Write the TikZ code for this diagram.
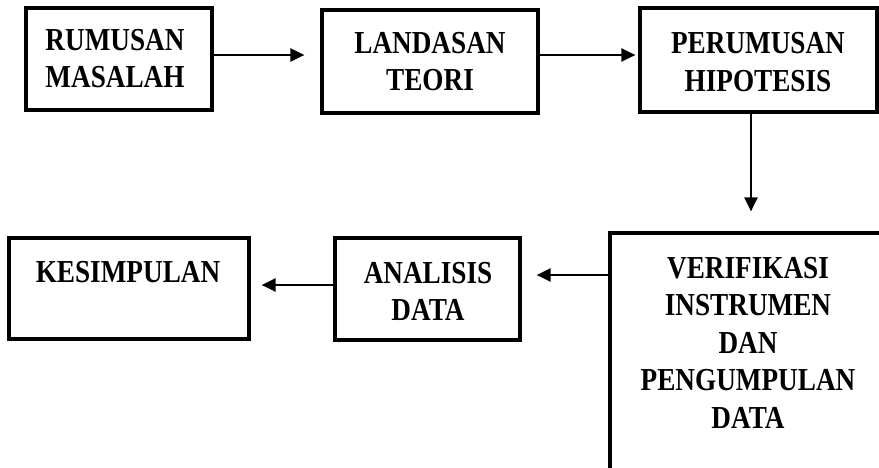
\documentclass[tikz,border=0pt]{standalone}
\usepackage{fontspec}
\setmainfont{Liberation Serif}[FakeStretch=0.85]
\usetikzlibrary{arrows.meta}
\begin{document}
\begin{tikzpicture}[x=1pt,y=-1pt,
  box/.style={draw=black,line width=3.2pt,inner sep=0pt},
  lbl/.style={align=center,font=\fontsize{32}{37.5}\selectfont\bfseries,inner sep=0pt},
  arr/.style={line width=2.3pt,-{Triangle[length=14pt,width=13pt]}}]
\useasboundingbox (0,0) rectangle (879,467);
% boxes
\node[box,minimum width=186pt,minimum height=102pt] (b1) at (119,59) {};
\node[box,minimum width=216pt,minimum height=103pt] (b2) at (430,61.5) {};
\node[box,minimum width=237pt,minimum height=104pt] (b3) at (758.5,60) {};
\node[box,minimum width=290pt,minimum height=260pt] (b4) at (755,363) {};
\node[box,minimum width=185pt,minimum height=102pt] (b5) at (427.5,289) {};
\node[box,minimum width=240pt,minimum height=101pt] (b6) at (129,288.5) {};
% labels
\node[lbl] (t1) at (115,58.5) {RUMUSAN\\MASALAH};
\node[lbl] (t2) at (430,61.5) {LANDASAN\\TEORI};
\node[lbl] (t3) at (758,62) {PERUMUSAN\\HIPOTESIS};
\node[lbl] (t4) at (748,342.5) {VERIFIKASI\\INSTRUMEN\\DAN\\PENGUMPULAN\\DATA};
\node[lbl] (t5) at (428,291.5) {ANALISIS\\DATA};
\node[lbl] (t6) at (128,272) {KESIMPULAN};
% connector guides
\coordinate (r1) at (0,55);
\coordinate (c3) at (751,0);
\coordinate (r4) at (0,275);
\coordinate (r5) at (0,285);
% connectors
\draw[arr,shorten >=16pt] (b1.east |- r1) -- (b2.west |- r1);
\draw[arr,shorten >=3pt] (b2.east |- r1) -- (b3.west |- r1);
\draw[arr,shorten >=20pt] (b3.south -| c3) -- (b4.north -| c3);
\draw[arr,shorten >=15pt] (b4.west |- r4) -- (b5.east |- r4);
\draw[arr,shorten >=11pt] (b5.west |- r5) -- (b6.east |- r5);
\end{tikzpicture}
\end{document}
